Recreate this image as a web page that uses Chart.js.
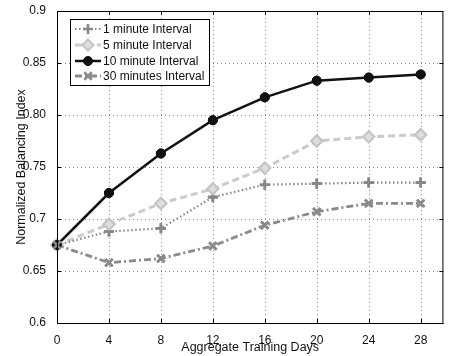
<!DOCTYPE html>
<html>
<head>
<meta charset="utf-8">
<script src="https://cdn.jsdelivr.net/npm/chart.js@4/dist/chart.umd.min.js"></script>
<style>
html,body{margin:0;padding:0;background:#fff;}
#wrap{width:451px;height:356px;}
</style>
</head>
<body>
<div id="wrap"><canvas id="c" width="451" height="356"></canvas></div>
<script>
const days = [0, 4, 8, 12, 16, 20, 24, 28];
const xTicks = [0, 4, 8, 12, 16, 20, 24, 28];
const yTickValues = [0.6, 0.65, 0.7, 0.75, 0.8, 0.85, 0.9];
const yTickLabels = ['0.6', '0.65', '0.7', '0.75', '0.80', '0.85', '0.9'];
const oneMin = [0.675, 0.688, 0.691, 0.721, 0.733, 0.734, 0.735, 0.735];
const fiveMin = [0.675, 0.695, 0.715, 0.729, 0.749, 0.775, 0.779, 0.781];
const tenMin = [0.675, 0.725, 0.763, 0.795, 0.817, 0.833, 0.836, 0.839];
const thirtyMin = [0.675, 0.658, 0.662, 0.674, 0.694, 0.707, 0.715, 0.715];
const seriesNames = ['1 minute Interval', '5 minute Interval', '10 minute Interval', '30 minutes Interval'];

const FONT = 'Liberation Sans, Arial, Helvetica, sans-serif';

function pts(arr) { return arr.map((v, i) => ({x: days[i], y: v})); }

function drawMarker(ctx, style, x, y, r, fill, stroke, lw) {
  ctx.save();
  ctx.setLineDash([]);
  ctx.lineWidth = lw;
  ctx.strokeStyle = stroke;
  ctx.fillStyle = fill;
  ctx.beginPath();
  if (style === 'circle') {
    ctx.arc(x, y, r, 0, Math.PI * 2);
    ctx.fill(); ctx.stroke();
  } else if (style === 'rectRot') {
    ctx.moveTo(x, y - r); ctx.lineTo(x + r, y); ctx.lineTo(x, y + r); ctx.lineTo(x - r, y); ctx.closePath();
    ctx.fill(); ctx.stroke();
  } else if (style === 'cross') {
    ctx.moveTo(x - r, y); ctx.lineTo(x + r, y); ctx.moveTo(x, y - r); ctx.lineTo(x, y + r);
    ctx.stroke();
  } else if (style === 'crossRot') {
    const d = r * 0.75;
    ctx.moveTo(x - d, y - d); ctx.lineTo(x + d, y + d); ctx.moveTo(x + d, y - d); ctx.lineTo(x - d, y + d);
    ctx.stroke();
  }
  ctx.restore();
}

const gridPlugin = {
  id: 'gridPlugin',
  beforeDatasetsDraw(chart) {
    const ctx = chart.ctx;
    const a = chart.chartArea;
    const xs = chart.scales.x, ys = chart.scales.y;
    ctx.save();
    ctx.beginPath();
    ctx.rect(a.left, a.top, a.right - a.left, a.bottom - a.top);
    ctx.clip();
    ctx.strokeStyle = '#8c8c8c';
    ctx.lineWidth = 1;
    ctx.setLineDash([1, 3]);
    ctx.beginPath();
    xTicks.forEach(t => {
      const px = Math.round(xs.getPixelForValue(t)) + 0.5;
      ctx.moveTo(px, a.bottom);
      ctx.lineTo(px, a.top);
    });
    ctx.stroke();
    ctx.beginPath();
    yTickValues.forEach(t => {
      const py = Math.round(ys.getPixelForValue(t)) + 0.5;
      ctx.moveTo(a.left, py);
      ctx.lineTo(a.right, py);
    });
    ctx.stroke();
    ctx.restore();
  }
};

const boxPlugin = {
  id: 'boxPlugin',
  afterDraw(chart) {
    const ctx = chart.ctx;
    const a = chart.chartArea;
    const xs = chart.scales.x, ys = chart.scales.y;
    ctx.save();
    ctx.setLineDash([]);
    ctx.strokeStyle = '#000';
    ctx.lineWidth = 1;
    ctx.strokeRect(a.left + 0.5, a.top + 0.5, a.right - a.left - 1, a.bottom - a.top);
    ctx.beginPath();
    xTicks.forEach(t => {
      const px = Math.round(xs.getPixelForValue(t)) + 0.5;
      ctx.moveTo(px, a.bottom); ctx.lineTo(px, a.bottom - 4);
      ctx.moveTo(px, a.top); ctx.lineTo(px, a.top + 4);
    });
    yTickValues.forEach(t => {
      const py = Math.round(ys.getPixelForValue(t)) + 0.5;
      ctx.moveTo(a.left, py); ctx.lineTo(a.left + 4, py);
      ctx.moveTo(a.right, py); ctx.lineTo(a.right - 4, py);
    });
    ctx.stroke();

    // legend
    const lx = 70, ly = 19, lw = 139, lh = 66;
    ctx.fillStyle = '#fff';
    ctx.fillRect(lx, ly, lw, lh);
    ctx.strokeStyle = '#000';
    ctx.strokeRect(lx + 0.5, ly + 0.5, lw, lh);
    const rows = [29, 45, 61, 76];
    chart.data.datasets.forEach((ds, i) => {
      const y = rows[i];
      ctx.save();
      ctx.strokeStyle = ds.borderColor;
      ctx.lineWidth = ds.borderWidth;
      ctx.setLineDash(ds.borderDash || []);
      ctx.beginPath();
      ctx.moveTo(75, y); ctx.lineTo(101, y);
      ctx.stroke();
      ctx.restore();
      drawMarker(ctx, ds.pointStyle, 88, y, ds.pointRadius, ds.pointBackgroundColor, ds.pointBorderColor, ds.pointBorderWidth);
      ctx.fillStyle = '#111';
      ctx.font = '12px ' + FONT;
      ctx.textBaseline = 'middle';
      ctx.textAlign = 'left';
      ctx.fillText(seriesNames[i], 103, y + 0.5);
    });
    ctx.restore();
  }
};

const markerPlugin = {
  id: 'markerPlugin',
  afterDatasetsDraw(chart) {
    const ctx = chart.ctx;
    chart.data.datasets.forEach((ds, i) => {
      const meta = chart.getDatasetMeta(i);
      meta.data.forEach(el => {
        drawMarker(ctx, ds.pointStyle, el.x, el.y, ds.pointRadius, ds.pointBackgroundColor, ds.pointBorderColor, ds.pointBorderWidth);
      });
    });
  }
};

new Chart(document.getElementById('c'), {
  type: 'line',
  data: {
    datasets: [
      {label: seriesNames[0], data: pts(oneMin), borderColor: '#878787', borderWidth: 2.2, borderDash: [1.5, 2.5],
       pointStyle: 'cross', pointRadius: 5, pointBackgroundColor: '#878787', pointBorderColor: '#878787', pointBorderWidth: 2.6},
      {label: seriesNames[1], data: pts(fiveMin), borderColor: '#cbcbcb', borderWidth: 3, borderDash: [7, 4],
       pointStyle: 'rectRot', pointRadius: 5.5, pointBackgroundColor: '#dedede', pointBorderColor: '#c4c4c4', pointBorderWidth: 2},
      {label: seriesNames[2], data: pts(tenMin), borderColor: '#111111', borderWidth: 2.5, borderDash: [],
       pointStyle: 'circle', pointRadius: 4.5, pointBackgroundColor: '#111111', pointBorderColor: '#111111', pointBorderWidth: 1},
      {label: seriesNames[3], data: pts(thirtyMin), borderColor: '#8a8a8a', borderWidth: 2.8, borderDash: [7, 3, 2, 3],
       pointStyle: 'crossRot', pointRadius: 5, pointBackgroundColor: '#8a8a8a', pointBorderColor: '#8a8a8a', pointBorderWidth: 2.6}
    ]
  },
  options: {
    responsive: false,
    animation: false,
    layout: {padding: {left: 0, right: 1, top: 11, bottom: 0}},
    elements: {point: {radius: 0, hoverRadius: 0}, line: {tension: 0}},
    datasets: {line: {clip: false, pointRadius: 0}},
    plugins: {legend: {display: false}, tooltip: {enabled: false}},
    scales: {
      x: {
        type: 'linear', min: 0, max: 29.75,
        afterFit(s) { s.height = 33; },
        afterBuildTicks(s) { s.ticks = xTicks.map(v => ({value: v})); },
        ticks: {color: '#111', font: {family: FONT, size: 12}, padding: 2, maxRotation: 0, autoSkip: false},
        grid: {display: false},
        border: {display: false},
        title: {display: true, text: 'Aggregate Training Days', color: '#111', font: {family: FONT, size: 12.5}, padding: {top: 0, bottom: 1}}
      },
      y: {
        type: 'linear', min: 0.6, max: 0.9,
        afterFit(s) { s.width = 57; },
        afterBuildTicks(s) { s.ticks = yTickValues.map(v => ({value: v})); },
        ticks: {color: '#111', font: {family: FONT, size: 12}, padding: 3,
          callback: (v) => { const i = yTickValues.findIndex(t => Math.abs(t - v) < 1e-6); return i >= 0 ? yTickLabels[i] : ''; }},
        grid: {display: false},
        border: {display: false},
        title: {display: true, text: 'Normalized Balancing Index', color: '#111', font: {family: FONT, size: 12.5}, padding: {top: 14, bottom: 0}}
      }
    }
  },
  plugins: [gridPlugin, markerPlugin, boxPlugin]
});
</script>
</body>
</html>
